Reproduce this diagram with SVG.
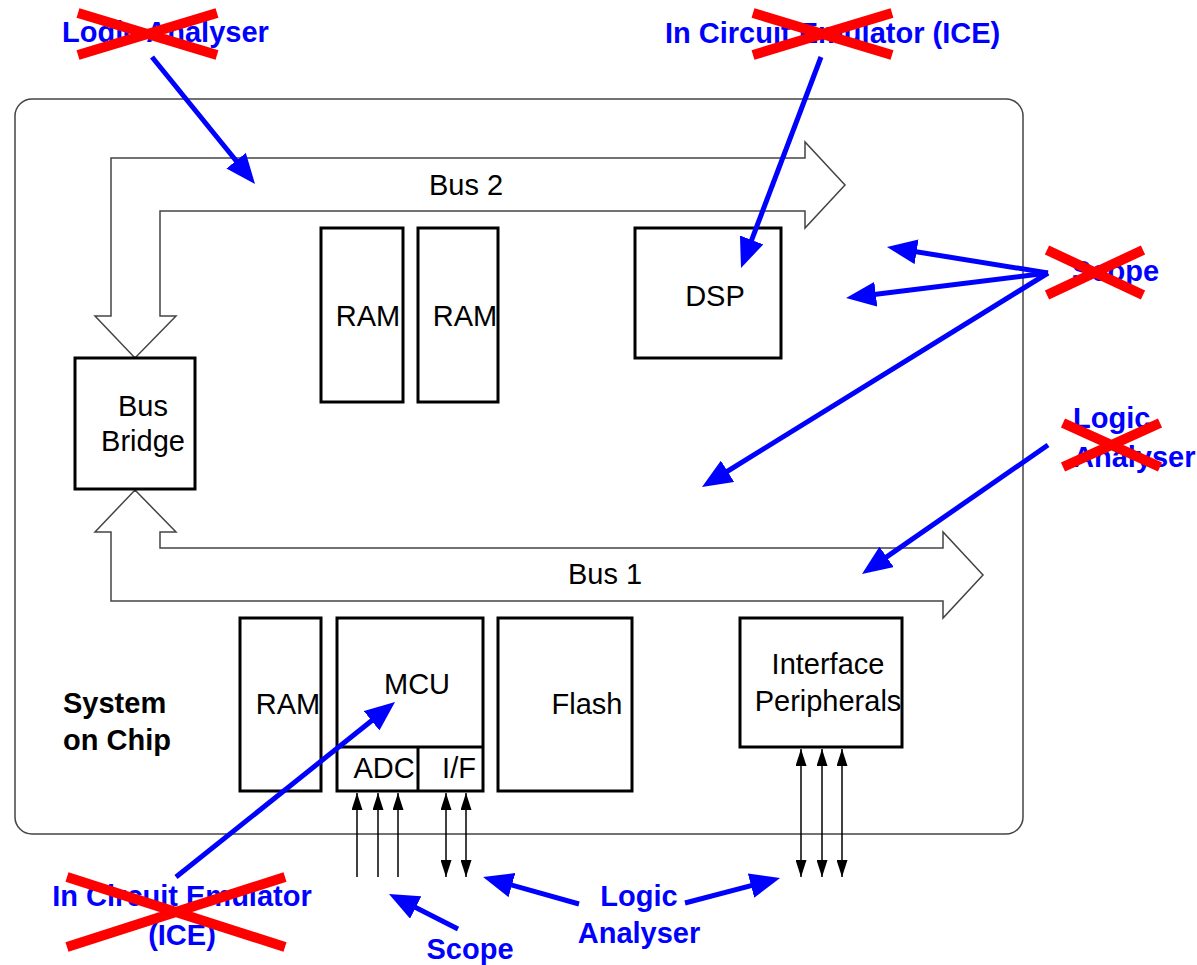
<svg xmlns="http://www.w3.org/2000/svg" width="1197" height="965" viewBox="0 0 1197 965">
<style>
.box{fill:#fff;stroke:#000;stroke-width:3}
.bus{fill:none;stroke:#444;stroke-width:1.5}
.t{font-family:"Liberation Sans",Arial,sans-serif;font-size:29px;fill:#000;text-anchor:middle}
.b{font-family:"Liberation Sans",Arial,sans-serif;font-size:29px;font-weight:bold}
.blue{fill:#0000ff}
.bl{stroke:#0000ff;stroke-width:5;fill:none;marker-end:url(#bh)}
.x{stroke:#ff0000;stroke-width:10;fill:none}
.sig{stroke:#000;stroke-width:1.5;fill:none}
.in{marker-end:url(#sh)}
.io{marker-end:url(#sh);marker-start:url(#sh)}
</style>
<defs>
<marker id="bh" viewBox="0 0 6 5" refX="2" refY="2.5" markerWidth="6" markerHeight="5" orient="auto"><path d="M0,0 L6,2.5 L0,5 z" fill="#0000ff"/></marker>
<marker id="sh" viewBox="0 0 17 11" refX="17" refY="5.5" markerWidth="17" markerHeight="11" markerUnits="userSpaceOnUse" orient="auto-start-reverse"><path d="M0,0 L17,5.5 L0,11 z" fill="#000"/></marker>
</defs>
<rect x="0" y="0" width="1197" height="965" fill="#fff"/>
<g id="soc">
<rect x="15" y="99" width="1008" height="735" rx="17" ry="17" fill="none" stroke="#444" stroke-width="1.5"/>
<text class="b" x="63" y="713">System</text>
<text class="b" x="63" y="750">on Chip</text>
</g>
<g id="bus2">
<path class="bus" d="M805,142 L805,158 L111,158 L111,316 L95,316 L135,358 L176,316 L160,316 L160,211 L805,211 L805,228 L845,185 Z"/>
<text class="t" x="466" y="195">Bus 2</text>
</g>
<g id="bus1">
<path class="bus" d="M135,490 L176,532 L160,532 L160,548 L943,548 L943,532 L983,575 L943,618 L943,601 L111,601 L111,532 L95,532 Z"/>
<text class="t" x="605" y="584">Bus 1</text>
</g>
<g id="ram1"><rect class="box" x="321" y="228" width="82" height="174"/><text class="t" x="368" y="326">RAM</text></g>
<g id="ram2"><rect class="box" x="418" y="228" width="80" height="174"/><text class="t" x="465" y="326">RAM</text></g>
<g id="dsp"><rect class="box" x="635" y="228" width="146" height="130"/><text class="t" x="715" y="306">DSP</text></g>
<g id="busbridge"><rect class="box" x="75" y="358" width="120" height="131"/><text class="t" x="143" y="416">Bus</text><text class="t" x="143" y="451">Bridge</text></g>
<g id="ram3"><rect class="box" x="240" y="618" width="81" height="173"/><text class="t" x="288" y="714">RAM</text></g>
<g id="mcu"><rect class="box" x="337" y="618" width="146" height="173"/><line x1="337" y1="747" x2="483" y2="747" stroke="#000" stroke-width="3"/><text class="t" x="417" y="694">MCU</text></g>
<g id="adc"><line x1="418" y1="747" x2="418" y2="791" stroke="#000" stroke-width="3"/><text class="t" x="384" y="778">ADC</text></g>
<g id="if"><text class="t" x="459" y="778">I/F</text></g>
<g id="flash"><rect class="box" x="498" y="618" width="134" height="173"/><text class="t" x="587" y="714">Flash</text></g>
<g id="periph"><rect class="box" x="740" y="618" width="162" height="129"/><text class="t" x="828" y="674">Interface</text><text class="t" x="828" y="711">Peripherals</text></g>
<g id="connectors">
<line class="sig in" x1="357" y1="877" x2="357" y2="793"/>
<line class="sig in" x1="378" y1="877" x2="378" y2="793"/>
<line class="sig in" x1="398" y1="877" x2="398" y2="793"/>
<line class="sig io" x1="446" y1="877" x2="446" y2="793"/>
<line class="sig io" x1="466" y1="877" x2="466" y2="793"/>
<line class="sig io" x1="801" y1="877" x2="801" y2="749"/>
<line class="sig io" x1="822" y1="877" x2="822" y2="749"/>
<line class="sig io" x1="842" y1="877" x2="842" y2="749"/>
<line class="bl" x1="152" y1="57" x2="242.4" y2="168.5"/>
<line class="bl" x1="821" y1="57" x2="748.1" y2="249.3"/>
<line class="bl" x1="1048" y1="273" x2="906.7" y2="250.2"/>
<line class="bl" x1="1048" y1="273" x2="865.9" y2="295.5"/>
<line class="bl" x1="1048" y1="273" x2="719" y2="476.5"/>
<line class="bl" x1="1048" y1="445" x2="878.4" y2="562.6"/>
<line class="bl" x1="176" y1="877" x2="379.4" y2="714.5"/>
<line class="bl" x1="458" y1="929" x2="406.8" y2="903"/>
<line class="bl" x1="579" y1="904" x2="502.3" y2="882.4"/>
<line class="bl" x1="685" y1="903" x2="760.7" y2="883.1"/>
</g>
<g id="la-top">
<text class="b blue" x="62" y="42">Logic Analyser</text>
<path class="x" d="M78,13 L217,55 M78,55 L217,13"/>
</g>
<g id="ice-top">
<text class="b blue" x="665" y="43">In Circuit Emulator (ICE)</text>
<path class="x" d="M753,13 L892,55 M753,55 L892,13"/>
</g>
<g id="scope-right">
<text class="b blue" x="1072" y="281">Scope</text>
<path class="x" d="M1047,250 L1143,295 M1047,295 L1143,250"/>
</g>
<g id="la-right">
<text class="b blue" x="1073" y="428">Logic</text>
<text class="b blue" x="1073" y="467">Analyser</text>
<path class="x" d="M1063,423 L1160,467 M1063,467 L1160,423"/>
</g>
<g id="ice-bottom">
<text class="b blue" x="182" y="906" text-anchor="middle">In Circuit Emulator</text>
<text class="b blue" x="182" y="945" text-anchor="middle">(ICE)</text>
<path class="x" d="M67,877 L285,947 M67,947 L285,877"/>
</g>
<g id="scope-bottom">
<text class="b blue" x="470" y="959" text-anchor="middle">Scope</text>
</g>
<g id="la-bottom">
<text class="b blue" x="639" y="906" text-anchor="middle">Logic</text>
<text class="b blue" x="639" y="943" text-anchor="middle">Analyser</text>
</g>
</svg>
